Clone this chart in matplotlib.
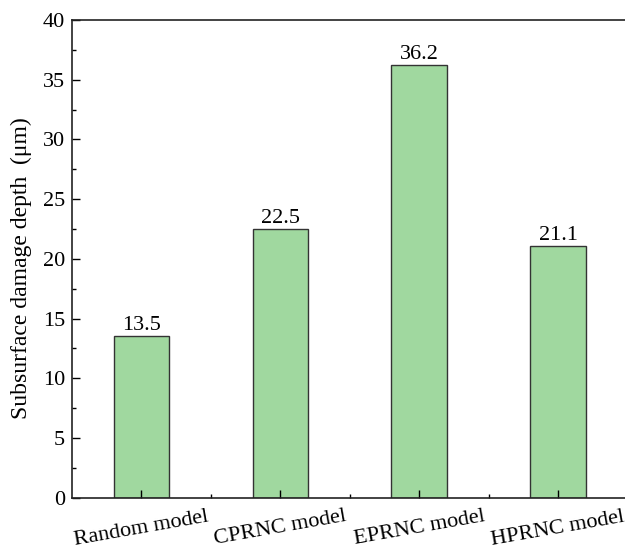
import matplotlib.pyplot as plt
import numpy as np
from matplotlib.ticker import MultipleLocator

plt.rcParams['font.family'] = ['Liberation Serif', 'DejaVu Serif']

models = ['Random model', 'CPRNC model', 'EPRNC model', 'HPRNC model']
depth = [13.5, 22.5, 36.2, 21.1]
value_labels = ['13.5', '22.5', '36.2', '21.1']

fig = plt.figure(figsize=(6.25, 5.52), dpi=100)
ax = fig.add_axes([0.1152, 0.0984, 0.889, 0.8654])

x = np.arange(len(models))
ax.bar(x, depth, width=0.4, color='#a0d89f', edgecolor='#333333', linewidth=1.0)
for xi, v, s in zip(x, depth, value_labels):
    ax.text(xi, v + 0.1, s, ha='center', va='bottom', fontsize=16)

ax.set_xlim(-0.5, 3.5)
ax.set_ylim(0, 40)
ax.set_xticks(x)
ax.set_xticklabels(models, rotation=10, ha='center', fontsize=16)
ax.xaxis.set_minor_locator(plt.FixedLocator(x[:-1] + 0.5))
ax.yaxis.set_major_locator(MultipleLocator(5))
ax.yaxis.set_minor_locator(MultipleLocator(2.5))
ax.tick_params(axis='both', which='major', direction='in', length=6, width=1, labelsize=16)
ax.tick_params(axis='both', which='minor', direction='in', length=3, width=1)
ax.tick_params(axis='x', pad=7)
ax.tick_params(axis='y', pad=5)
ax.set_ylabel('Subsurface damage depth  (μm)', fontsize=17)
ax.yaxis.set_label_coords(-0.072, 0.48)

for sp in ax.spines.values():
    sp.set_linewidth(1.2)
    sp.set_color('#222222')

plt.savefig('out.png', dpi=100)
